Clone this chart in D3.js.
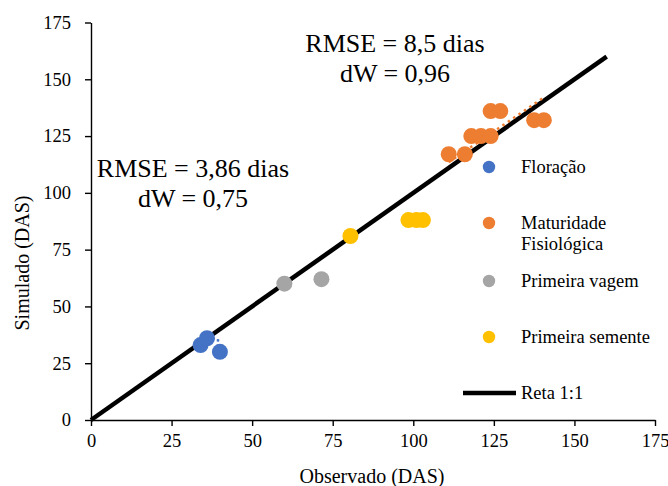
<!DOCTYPE html>
<html>
<head>
<meta charset="utf-8">
<script src="https://cdn.jsdelivr.net/npm/d3@7"></script>
<style>
body { margin: 0; background: #fff; }
text { font-family: "Liberation Serif", "Times New Roman", serif; fill: #000; }
</style>
</head>
<body>
<div id="chart"></div>
<script>
// observed vs simulated (DAS) per phenological stage
var floracao = [[34, 33], [36, 36], [40, 30]];
var maturidade = [[111, 117], [116, 117], [118, 125], [121, 125], [124, 125],
                  [124, 136], [127, 136], [137.5, 132], [140.5, 132]];
var primeiraVagem = [[60, 60], [71.5, 62]];
var primeiraSemente = [[80.5, 81], [98.5, 88], [101, 88], [103, 88]];

// trendlines (dotted) and the 1:1 line
var trendFloracao = [[35, 35.6], [40, 35]];
var trendMaturidade = [[111, 113.5], [141, 142.5]];
var reta = [[0, 0], [160, 160]];

var ticks = [0, 25, 50, 75, 100, 125, 150, 175];

var series = [
    {"name" : ["Floração"], "color" : "#4472C4", "data" : floracao},
    {"name" : ["Maturidade", "Fisiológica"], "color" : "#ED7D31", "data" : maturidade},
    {"name" : ["Primeira vagem"], "color" : "#A5A5A5", "data" : primeiraVagem},
    {"name" : ["Primeira semente"], "color" : "#FFC000", "data" : primeiraSemente}
];

var fullWidth = 668;
var fullHeight = 486;

var svg = d3.select("#chart").append("svg")
    .attr("width", fullWidth)
    .attr("height", fullHeight);

var x = d3.scaleLinear().domain([0, 175]).range([91, 655]);
var y = d3.scaleLinear().domain([0, 175]).range([420, 22.5]);

// axes
var xAxis = svg.append("g")
    .attr("transform", "translate(0," + y(0) + ")")
    .call(d3.axisBottom(x).tickValues(ticks).tickSize(6).tickSizeOuter(0).tickPadding(8));
var yAxis = svg.append("g")
    .attr("transform", "translate(" + x(0) + ",0)")
    .call(d3.axisLeft(y).tickValues(ticks).tickSize(6).tickSizeOuter(0).tickPadding(14));

[xAxis, yAxis].forEach(function(a) {
    a.selectAll("path, line").attr("stroke", "#000").attr("stroke-width", 1.4);
    a.selectAll("text").style("font-size", "18.5px").attr("fill", "#000");
});

// axis titles
svg.append("text")
    .attr("x", 372).attr("y", 483)
    .attr("text-anchor", "middle")
    .style("font-size", "20px")
    .text("Observado (DAS)");
svg.append("text")
    .attr("transform", "translate(29,263) rotate(-90)")
    .attr("text-anchor", "middle")
    .style("font-size", "20px")
    .text("Simulado (DAS)");

var line = d3.line()
    .x(function(d) { return x(d[0]); })
    .y(function(d) { return y(d[1]); });

// 1:1 line
svg.append("path")
    .attr("d", line(reta))
    .attr("fill", "none")
    .attr("stroke", "#000")
    .attr("stroke-width", 4.5);

// trendlines
svg.append("path")
    .attr("d", line(trendMaturidade))
    .attr("fill", "none")
    .attr("stroke", "#ED7D31")
    .attr("stroke-width", 2.5)
    .attr("stroke-dasharray", "2.5,4");
svg.append("path")
    .attr("d", line(trendFloracao))
    .attr("fill", "none")
    .attr("stroke", "#4472C4")
    .attr("stroke-width", 2.5)
    .attr("stroke-dasharray", "2.5,4");

// points
series.forEach(function(s) {
    svg.append("g").selectAll("circle").data(s.data).enter().append("circle")
        .attr("cx", function(d) { return x(d[0]); })
        .attr("cy", function(d) { return y(d[1]); })
        .attr("r", 8)
        .attr("fill", s.color);
});

// annotations
var notes = [
    {"lines" : ["RMSE = 8,5 dias", "dW = 0,96"], "x" : 395, "y" : 52},
    {"lines" : ["RMSE = 3,86 dias", "dW = 0,75"], "x" : 193, "y" : 177}
];
notes.forEach(function(n) {
    n.lines.forEach(function(t, i) {
        svg.append("text")
            .attr("x", n.x).attr("y", n.y + i * 30)
            .attr("text-anchor", "middle")
            .style("font-size", "26px")
            .text(t);
    });
});

// legend
var legendY = [167, 223, 281, 337];
var legend = svg.append("g");
series.forEach(function(s, i) {
    legend.append("circle")
        .attr("cx", 489).attr("cy", legendY[i])
        .attr("r", 6.2)
        .attr("fill", s.color);
    s.name.forEach(function(t, j) {
        legend.append("text")
            .attr("x", 521).attr("y", legendY[i] + 6 + j * 21)
            .style("font-size", "18.5px")
            .text(t);
    });
});
legend.append("line")
    .attr("x1", 463).attr("x2", 516)
    .attr("y1", 393).attr("y2", 393)
    .attr("stroke", "#000")
    .attr("stroke-width", 4.5);
legend.append("text")
    .attr("x", 521).attr("y", 399)
    .style("font-size", "18.5px")
    .text("Reta 1:1");
</script>
</body>
</html>
